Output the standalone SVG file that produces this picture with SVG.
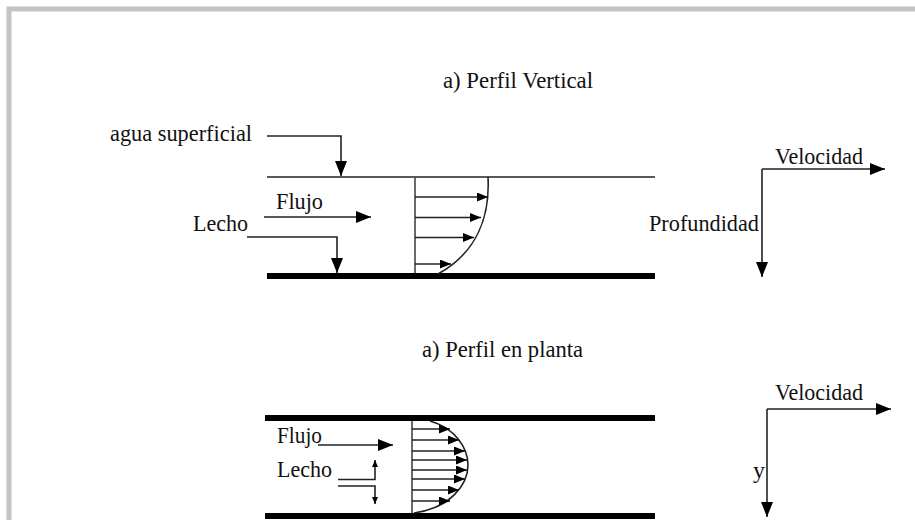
<svg xmlns="http://www.w3.org/2000/svg" width="915" height="520" viewBox="0 0 915 520">
<style>
text{font-family:"Liberation Serif","Times New Roman",serif;font-size:24px;fill:#111}
.ln{stroke:#222;stroke-width:1.6;fill:none}
.pv{stroke:#444;stroke-width:1.6;fill:none}
.bed{stroke:#000;stroke-width:6}
.frame{stroke:#c4c4c4;stroke-width:5;fill:none}
</style>
<defs>
<marker id="ah" markerUnits="userSpaceOnUse" markerWidth="15" markerHeight="12" refX="15" refY="6" orient="auto"><path d="M0,0 L15,6 L0,12 Z" fill="#000"/></marker>
<marker id="ahs" markerUnits="userSpaceOnUse" markerWidth="11" markerHeight="9" refX="11" refY="4.5" orient="auto"><path d="M0,0 L11,4.5 L0,9 Z" fill="#000"/></marker>
<marker id="ahx" markerUnits="userSpaceOnUse" markerWidth="7" markerHeight="6" refX="7" refY="3" orient="auto"><path d="M0,0 L7,3 L0,6 Z" fill="#000"/></marker>
</defs>
<rect width="915" height="520" fill="#fff"/>
<path class="frame" d="M9,523 V9 H918"/>

<g id="title-vertical"><text x="443" y="88" textLength="150" lengthAdjust="spacingAndGlyphs">a) Perfil Vertical</text></g>
<g id="label-agua"><text x="110" y="141" textLength="142" lengthAdjust="spacingAndGlyphs">agua superficial</text></g>
<g id="label-flujo-v"><text x="276" y="209" textLength="47" lengthAdjust="spacingAndGlyphs">Flujo</text></g>
<g id="label-lecho-v"><text x="193" y="231" textLength="55" lengthAdjust="spacingAndGlyphs">Lecho</text></g>

<g id="channel-vertical">
<line class="ln" x1="267" y1="177" x2="655" y2="177"/>
<line class="bed" x1="267" y1="276" x2="655" y2="276"/>
</g>

<g id="profile-vertical">
<line class="pv" x1="415" y1="177" x2="415" y2="273"/>
<path class="ln" d="M488,177 C490,215 478,252 438,274"/>
<line class="ln" x1="415" y1="197" x2="488" y2="197" marker-end="url(#ahs)"/>
<line class="ln" x1="415" y1="217.5" x2="481" y2="217.5" marker-end="url(#ahs)"/>
<line class="ln" x1="415" y1="237.5" x2="474" y2="237.5" marker-end="url(#ahs)"/>
<line class="ln" x1="415" y1="264" x2="451" y2="264" marker-end="url(#ahs)"/>
</g>

<g id="axes-vertical">
<text x="775" y="164" textLength="88" lengthAdjust="spacingAndGlyphs">Velocidad</text>
<text x="649" y="231" textLength="110" lengthAdjust="spacingAndGlyphs">Profundidad</text>
</g>

<g id="title-planta"><text x="422" y="357" textLength="161" lengthAdjust="spacingAndGlyphs">a) Perfil en planta</text></g>
<g id="label-flujo-p"><text x="277" y="443" textLength="45" lengthAdjust="spacingAndGlyphs">Flujo</text></g>
<g id="label-lecho-p"><text x="277" y="477" textLength="55" lengthAdjust="spacingAndGlyphs">Lecho</text></g>

<g id="channel-planta">
<line class="bed" x1="265" y1="418" x2="655" y2="418"/>
<line class="bed" x1="265" y1="516" x2="655" y2="516"/>
</g>

<g id="profile-planta">
<line class="pv" x1="412" y1="421" x2="412" y2="513"/>
<path class="ln" d="M430,421 C455,428 468,448 468,465 C468,485 450,508 414,513"/>
<line class="ln" x1="412" y1="429" x2="450" y2="429" marker-end="url(#ahs)"/>
<line class="ln" x1="412" y1="440" x2="459" y2="440" marker-end="url(#ahs)"/>
<line class="ln" x1="412" y1="451" x2="465" y2="451" marker-end="url(#ahs)"/>
<line class="ln" x1="412" y1="460" x2="467" y2="460" marker-end="url(#ahs)"/>
<line class="ln" x1="412" y1="470" x2="467" y2="470" marker-end="url(#ahs)"/>
<line class="ln" x1="412" y1="479" x2="465" y2="479" marker-end="url(#ahs)"/>
<line class="ln" x1="412" y1="490" x2="459" y2="490" marker-end="url(#ahs)"/>
<line class="ln" x1="412" y1="501" x2="450" y2="501" marker-end="url(#ahs)"/>
</g>

<g id="axes-planta">
<text x="775" y="400" textLength="88" lengthAdjust="spacingAndGlyphs">Velocidad</text>
<text x="753" y="478">y</text>
</g>

<g id="connectors">
<path class="ln" d="M267,136 H341 V176" marker-end="url(#ah)"/>
<path class="ln" d="M264,217 H371" marker-end="url(#ah)"/>
<path class="ln" d="M247,237 H337 V273" marker-end="url(#ah)"/>
<path class="ln" d="M762,169 V277" marker-end="url(#ah)"/>
<path class="ln" d="M762,169 H885" marker-end="url(#ah)"/>
<path class="ln" d="M318,445 H393" marker-end="url(#ah)"/>
<path class="ln" d="M338,479.5 H375 V460" marker-end="url(#ahx)"/>
<path class="ln" d="M338,486 H375 V504" marker-end="url(#ahx)"/>
<path class="ln" d="M767,409 H891" marker-end="url(#ah)"/>
<path class="ln" d="M767,409 V517" marker-end="url(#ah)"/>
</g>
</svg>
